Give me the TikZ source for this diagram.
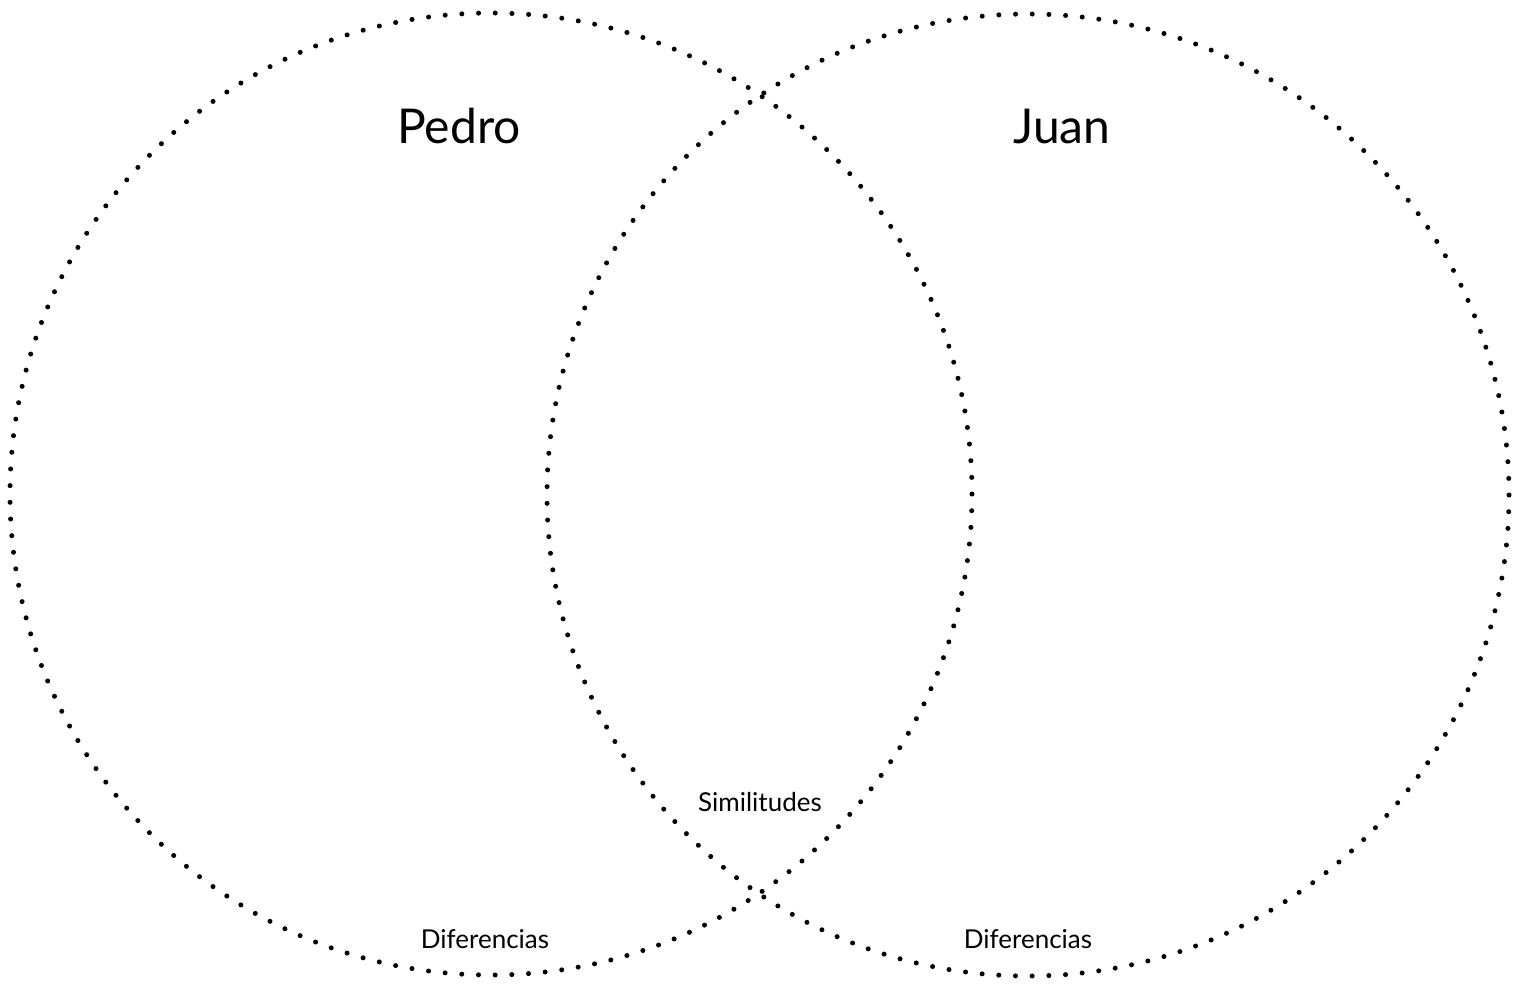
\documentclass[tikz,border=0pt]{standalone}
\usepackage{fontspec}
\setmainfont{Lato}
\begin{document}
\begin{tikzpicture}[x=1pt,y=-1pt,
  venn/.style={draw=black,line width=5pt,line cap=round,dash pattern=on 0pt off 16.7pt},
  title/.style={font=\fontsize{48}{56}\selectfont,anchor=base,inner sep=0pt},
  label/.style={font=\fontsize{26}{31}\selectfont,anchor=base,inner sep=0pt}]
\useasboundingbox[fill=white] (0,0) rectangle (1525,983);
\draw[venn] (491,494) circle (481);
\draw[venn] (1028,495) circle (481);
\node[title] (pedro) at (459,143) {Pedro};
\node[title] (juan) at (1062,143) {Juan};
\node[label] (sim) at (760,811) {Similitudes};
\node[label] (difl) at (485,948) {Diferencias};
\node[label] (difr) at (1028,948) {Diferencias};
\end{tikzpicture}
\end{document}
